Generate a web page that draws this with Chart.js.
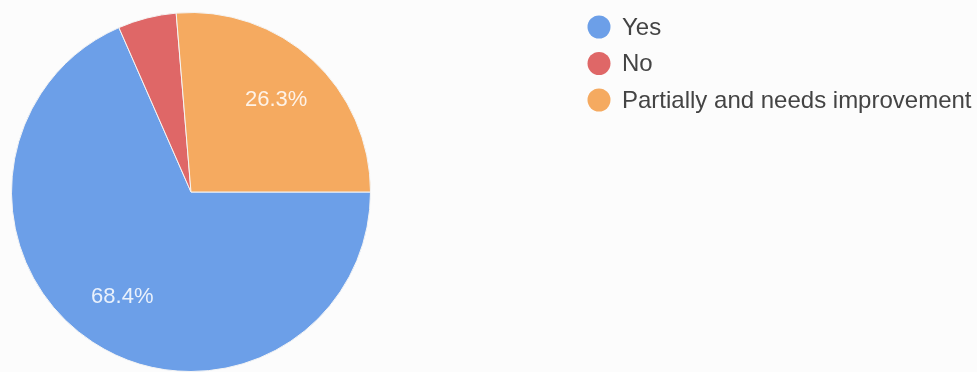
<!DOCTYPE html>
<html>
	<head>
		<meta charset="UTF-8" />
		<title>Survey Pie</title>
		<style type="text/css">
			body {
				margin: 0;
				background: #fcfcfc;
			}
			.chartBox {
				width: 977px;
				height: 372px;
			}
		</style>
	</head>
	<body>
		<div class="chartBox">
			<canvas id="myChart" width="977" height="372"></canvas>
		</div>

		<script src="https://cdn.jsdelivr.net/npm/chart.js@4.4.1/dist/chart.umd.min.js"></script>
		<script>
		// answers and how many people gave each one
		var answers = ["Yes", "No", "Partially and needs improvement"];
		var counts = [13, 1, 5];
		var colors = ["#6c9fe8", "#df6767", "#f5aa60"];

		const FONT = "'Liberation Sans', Arial, sans-serif";

		// percentage text inside the slices (small slices are skipped)
		const sliceLabels = {
			id: 'sliceLabels',
			afterDatasetsDraw(chart) {
				const ctx = chart.ctx;
				const meta = chart.getDatasetMeta(0);
				const total = counts.reduce((a, b) => a + b, 0);
				ctx.save();
				ctx.font = "22px " + FONT;
				ctx.fillStyle = "rgba(255,255,255,0.85)";
				ctx.textAlign = "center";
				ctx.textBaseline = "middle";
				meta.data.forEach((arc, i) => {
					const share = counts[i] / total;
					if (share < 0.1) return;
					const p = arc.getProps(['x', 'y', 'startAngle', 'endAngle', 'outerRadius'], true);
					const mid = (p.startAngle + p.endAngle) / 2;
					const d = p.outerRadius * 0.7;
					ctx.fillText((share * 100).toFixed(1) + "%", p.x + Math.cos(mid) * d, p.y + Math.sin(mid) * d);
				});
				ctx.restore();
			}
		};

		// legend on the right: round swatches with the answer text
		const sideLegend = {
			id: 'sideLegend',
			afterDraw(chart) {
				const ctx = chart.ctx;
				ctx.save();
				ctx.font = "24px " + FONT;
				ctx.textBaseline = "middle";
				answers.forEach((label, i) => {
					const y = 27 + i * 36.5;
					ctx.beginPath();
					ctx.arc(599, y, 11.5, 0, Math.PI * 2);
					ctx.fillStyle = colors[i];
					ctx.fill();
					ctx.fillStyle = "#444444";
					ctx.fillText(label, 622, y + 1);
				});
				ctx.restore();
			}
		};

		const ctx = document.getElementById('myChart').getContext('2d');

		const config = {
			type: 'pie',
			data: {
				labels: answers,
				datasets: [{
					data: counts,
					backgroundColor: colors,
					borderColor: '#f4f4f4',
					borderWidth: 1,
					clip: false
				}]
			},
			options: {
				responsive: false,
				animation: false,
				rotation: 90,
				layout: {
					padding: { left: 11, top: 12, right: 606, bottom: 0 }
				},
				plugins: {
					legend: { display: false },
					tooltip: { enabled: false }
				}
			},
			plugins: [sliceLabels, sideLegend]
		};

		const myChart = new Chart(ctx, config);
		</script>
	</body>
</html>
